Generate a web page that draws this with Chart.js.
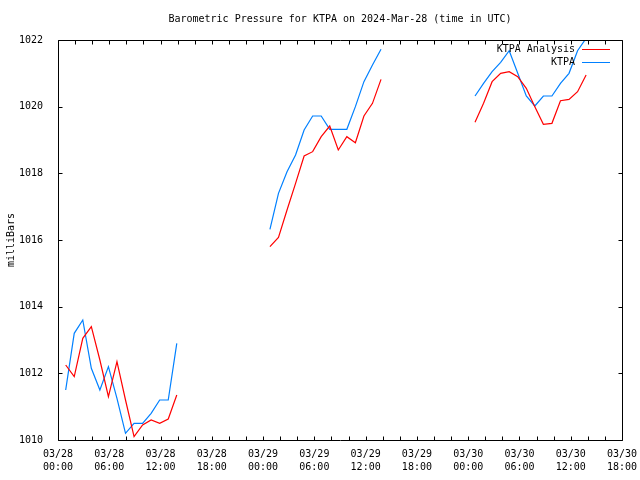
<!DOCTYPE html>
<html>
<head>
<meta charset="utf-8">
<script src="https://cdn.jsdelivr.net/npm/chart.js@4.4.1/dist/chart.umd.min.js"></script>
<style>
  html, body { margin: 0; padding: 0; background: #fff; }
  #wrap { width: 640px; height: 480px; }
</style>
</head>
<body>
<div id="wrap"><canvas id="chart" width="640" height="480"></canvas></div>
<script>
// hours since 03/28 00:00 UTC (null entries break the line between days)
const obsHours = [
    0.9, 1.9, 2.9, 3.9, 4.9, 5.9, 6.9, 7.9, 8.9, 9.9, 10.9, 11.9, 12.9, 13.9,
    19,
    24.8, 25.8, 26.8, 27.8, 28.8, 29.8, 30.8, 31.8, 32.8, 33.8, 34.8, 35.8, 36.8, 37.8,
    43,
    48.8, 49.8, 50.8, 51.8, 52.8, 53.8, 54.8, 55.8, 56.8, 57.8, 58.8, 59.8, 60.8, 61.8
];

// KTPA observed pressure (mb)
const ktpaObs = [
    1011.5, 1013.2, 1013.6, 1012.15, 1011.5, 1012.2, 1011.25, 1010.2, 1010.5, 1010.5, 1010.8, 1011.2, 1011.2, 1012.9,
    null,
    1016.32, 1017.4, 1018.05, 1018.55, 1019.3, 1019.72, 1019.72, 1019.32, 1019.32, 1019.32, 1020.0, 1020.75, 1021.25, 1021.72,
    null,
    1020.32, 1020.7, 1021.05, 1021.33, 1021.68, 1021.0, 1020.32, 1020.02, 1020.32, 1020.32, 1020.7, 1021.0, 1021.68, 1022.05
];

// KTPA analysis pressure (mb)
const ktpaAnalysis = [
    1012.25, 1011.9, 1013.05, 1013.4, 1012.4, 1011.3, 1012.35, 1011.2, 1010.1, 1010.45, 1010.6, 1010.5, 1010.63, 1011.35,
    null,
    1015.8, 1016.08, 1016.9, 1017.7, 1018.52, 1018.65, 1019.1, 1019.42, 1018.7, 1019.1, 1018.92, 1019.72, 1020.1, 1020.82,
    null,
    1019.53, 1020.1, 1020.75, 1021.0, 1021.05, 1020.9, 1020.55, 1020.0, 1019.47, 1019.5, 1020.18, 1020.22, 1020.45, 1020.95
];

const seriesLabels = ['KTPA Analysis', 'KTPA'];
const seriesColors = ['#ff0000', '#0080ff'];

const titleText = 'Barometric Pressure for KTPA on 2024-Mar-28 (time in UTC)';
const yTitle = 'milliBars';
const startDay = 28;

const FONT = '"DejaVu Sans Mono", "Liberation Mono", monospace';

Chart.defaults.font.family = FONT;
Chart.defaults.font.size = 10;
Chart.defaults.color = '#000';

function toPoints(values) {
    return obsHours.map((h, i) => ({ x: h, y: values[i] }));
}

function pad2(n) {
    return (n < 10 ? '0' : '') + n;
}

// gnuplot style: border, inward ticks mirrored on all sides, title, key
const gnuplotFrame = {
    id: 'gnuplotFrame',
    afterDraw(chart) {
        const ctx = chart.ctx;
        const area = chart.chartArea;
        const xs = chart.scales.x;
        const ys = chart.scales.y;
        const L = Math.round(area.left) + 0.5;
        const R = Math.round(area.right) + 0.5;
        const T = Math.round(area.top) + 0.5;
        const B = Math.round(area.bottom) + 0.5;

        ctx.save();
        ctx.strokeStyle = '#000';
        ctx.lineWidth = 1;
        ctx.beginPath();
        ctx.rect(L, T, R - L, B - T);

        xs.ticks.forEach(t => {
            const px = Math.round(xs.getPixelForValue(t.value)) + 0.5;
            ctx.moveTo(px, B);
            ctx.lineTo(px, B - 4);
            ctx.moveTo(px, T);
            ctx.lineTo(px, T + 4);
        });
        ys.ticks.forEach(t => {
            const py = Math.round(ys.getPixelForValue(t.value)) + 0.5;
            ctx.moveTo(L, py);
            ctx.lineTo(L + 4, py);
            ctx.moveTo(R, py);
            ctx.lineTo(R - 4, py);
        });
        ctx.stroke();

        // title
        ctx.font = '10px ' + FONT;
        ctx.fillStyle = '#000';
        ctx.textAlign = 'center';
        ctx.textBaseline = 'middle';
        ctx.fillText(titleText, (area.left + area.right) / 2, 19);

        // key
        ctx.textAlign = 'right';
        chart.data.datasets.forEach((ds, i) => {
            const y = 49 + i * 13;
            ctx.fillText(ds.label, area.right - 47, y);
            ctx.strokeStyle = ds.borderColor;
            ctx.beginPath();
            ctx.moveTo(area.right - 40, y + 0.5);
            ctx.lineTo(area.right - 12, y + 0.5);
            ctx.stroke();
        });
        ctx.restore();
    }
};

new Chart(document.getElementById('chart').getContext('2d'), {
    type: 'line',
    data: {
        datasets: [
            {
                label: seriesLabels[0],
                data: toPoints(ktpaAnalysis),
                borderColor: seriesColors[0],
                borderWidth: 1.2,
                pointRadius: 0,
                tension: 0,
                spanGaps: false
            },
            {
                label: seriesLabels[1],
                data: toPoints(ktpaObs),
                borderColor: seriesColors[1],
                borderWidth: 1.2,
                pointRadius: 0,
                tension: 0,
                spanGaps: false
            }
        ]
    },
    options: {
        responsive: false,
        animation: false,
        layout: {
            padding: { top: 40, right: 18, left: 0, bottom: 0 }
        },
        plugins: {
            legend: { display: false },
            title: { display: false },
            tooltip: { enabled: false }
        },
        scales: {
            x: {
                type: 'linear',
                min: 0,
                max: 66,
                grid: { display: false },
                border: { display: false },
                ticks: {
                    stepSize: 2,
                    autoSkip: false,
                    maxRotation: 0,
                    minRotation: 0,
                    padding: 0,
                    font: { size: 10, lineHeight: 1.3 },
                    callback: function(value) {
                        if (value % 6 !== 0) {
                            return '';
                        }
                        const day = startDay + Math.floor(value / 24);
                        const hour = value % 24;
                        return ['03/' + pad2(day), pad2(hour) + ':00'];
                    }
                },
                afterFit: function(scale) {
                    scale.height = 40;
                    scale.paddingLeft = 0;
                    scale.paddingRight = 0;
                }
            },
            y: {
                min: 1010,
                max: 1022,
                grid: { display: false },
                border: { display: false },
                title: {
                    display: true,
                    text: yTitle,
                    font: { size: 10 },
                    padding: { top: 5, bottom: 0 }
                },
                ticks: {
                    stepSize: 2,
                    padding: 7,
                    callback: function(value) {
                        return String(value);
                    }
                },
                afterFit: function(scale) {
                    scale.width = 58;
                    scale.paddingTop = 0;
                    scale.paddingBottom = 0;
                }
            }
        }
    },
    plugins: [gnuplotFrame]
});
</script>
</body>
</html>
